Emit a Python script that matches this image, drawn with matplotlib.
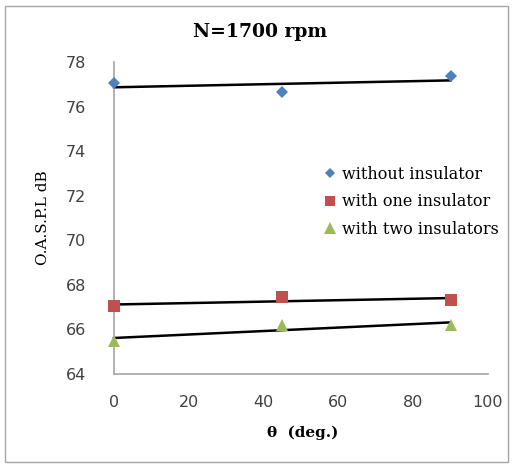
import numpy as np
import matplotlib
matplotlib.use("Agg")
import matplotlib.pyplot as plt
from matplotlib.patches import Rectangle

theta = [0, 45, 90]
without_ins = [77.05, 76.65, 77.36]
one_ins = [67.03, 67.44, 67.32]
two_ins = [65.5, 66.2, 66.2]
labels = ["without insulator", "with one insulator", "with two insulators"]
colors = ["#4F81BD", "#C0504D", "#9BBB59"]
markers = ["D", "s", "^"]
msizes = [6, 8, 9]

W, H = 513, 466
fig = plt.figure(figsize=(W / 100, H / 100), dpi=100)
fig.patches.append(Rectangle((5 / W, 4 / H), (W - 10) / W, (H - 10) / H,
                             transform=fig.transFigure, fill=False,
                             edgecolor="#A6A6A6", lw=1.0))

x0, x1 = 114, 488
y0, y1 = 374, 62
ax = fig.add_axes([x0 / W, 1 - y0 / H, (x1 - x0) / W, (y0 - y1) / H])

for ys, lab, c, m, ms in zip([without_ins, one_ins, two_ins], labels, colors, markers, msizes):
    ax.plot(theta, ys, linestyle="none", marker=m, color=c, markersize=ms,
            markeredgewidth=0, label=lab, zorder=3, clip_on=False)
    k, b = np.polyfit(theta, ys, 1)
    xs = np.array([theta[0], theta[-1]])
    ax.plot(xs, k * xs + b, color="black", lw=1.8, zorder=2, clip_on=False)

ax.set_xlim(0, 100)
ax.set_ylim(64, 78)
ax.set_xticks(range(0, 101, 20))
ax.set_yticks(range(64, 79, 2))
for s in ["top", "right"]:
    ax.spines[s].set_visible(False)
for s in ["left", "bottom"]:
    ax.spines[s].set_color("#A6A6A6")
    ax.spines[s].set_linewidth(1.2)
ax.tick_params(length=0, labelsize=11.5, colors="#404040")
ax.tick_params(axis="y", pad=20)
ax.tick_params(axis="x", pad=15)

serif = "DejaVu Serif"
fig.text(260 / W, 1 - 32 / H, "N=1700 rpm", ha="center", va="center",
         fontsize=13.5, fontweight="bold", family=serif)
fig.text(303 / W, 1 - 433 / H, "θ  (deg.)", ha="center", va="center",
         fontsize=11, fontweight="bold", family=serif)
fig.text(43 / W, 1 - 218 / H, "O.A.S.P.L dB", ha="center", va="center",
         rotation=90, fontsize=11, family=serif)

leg = ax.legend(loc="upper left", bbox_to_anchor=((316 - x0) / (x1 - x0), (y0 - 158) / (y0 - y1)),
                frameon=False, prop={"family": serif, "size": 11.5},
                handlelength=0.8, handletextpad=0.3, labelspacing=0.65, borderpad=0)
for h, ms in zip(leg.legend_handles, [5, 7, 8]):
    h.set_markersize(ms)

fig.savefig("out.png", dpi=100)
